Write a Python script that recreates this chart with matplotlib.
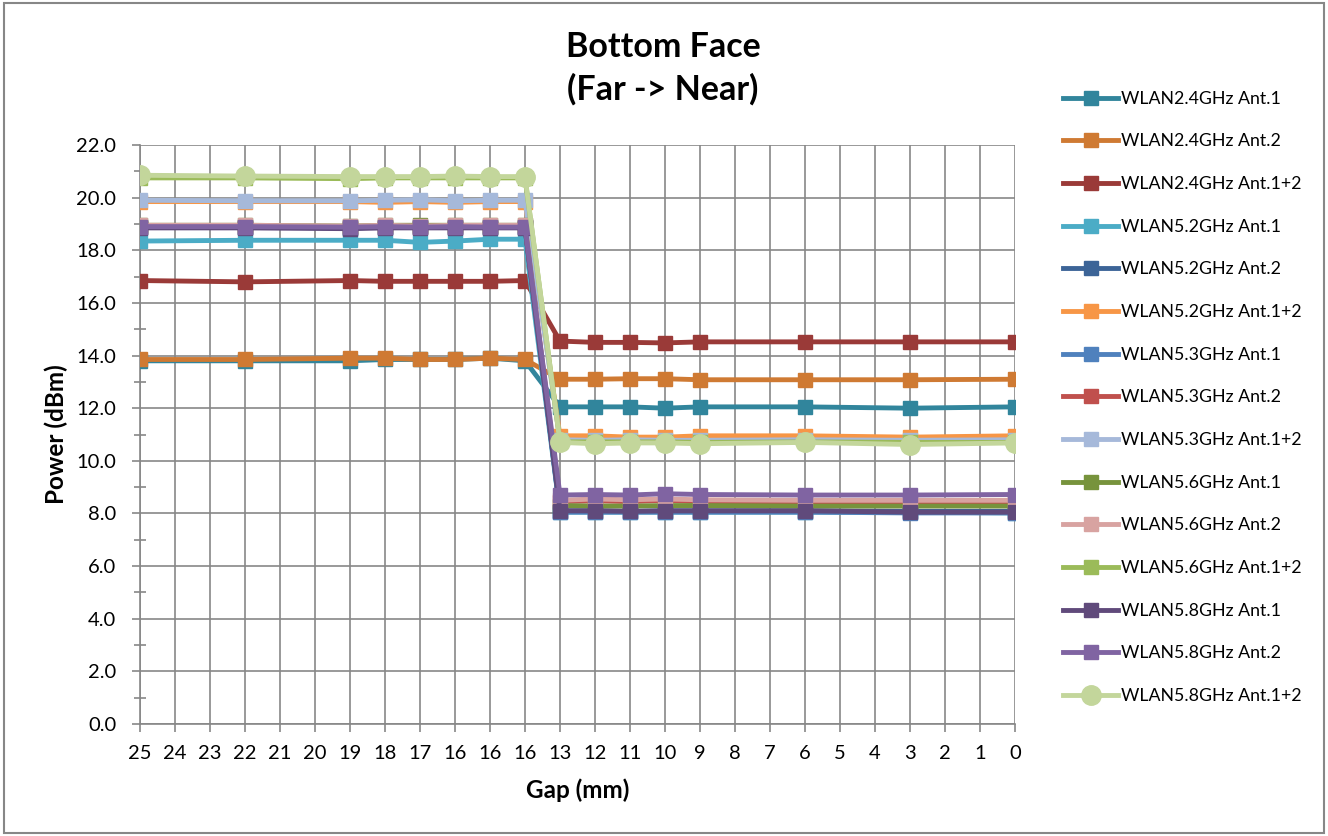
import matplotlib
matplotlib.use("Agg")
from matplotlib import pyplot as plt
from matplotlib.patches import Rectangle
import numpy as np

plt.rcParams['font.family'] = ['Lato', 'DejaVu Sans']

# x categories (gap in mm), as on the sheet
gaps = ["25", "24", "23", "22", "21", "20", "19", "18", "17", "16", "16", "16", "13",
        "12", "11", "10", "9", "8", "7", "6", "5", "4", "3", "2", "1", "0"]
# category positions that actually have a measurement
pos = [0, 3, 6, 7, 8, 9, 10, 11, 12, 13, 14, 15, 16, 19, 22, 25]

w24_a1 = [13.80, 13.80, 13.80, 13.85, 13.85, 13.85, 13.90, 13.80, 12.05, 12.05, 12.05, 12.00, 12.05, 12.05, 12.00, 12.05]
w24_a2 = [13.85, 13.85, 13.90, 13.90, 13.85, 13.85, 13.90, 13.85, 13.10, 13.10, 13.12, 13.12, 13.08, 13.08, 13.08, 13.10]
w24_a12 = [16.85, 16.80, 16.85, 16.82, 16.82, 16.82, 16.82, 16.85, 14.55, 14.50, 14.50, 14.48, 14.52, 14.52, 14.52, 14.52]
w52_a1 = [18.35, 18.38, 18.38, 18.38, 18.30, 18.35, 18.42, 18.42, 8.05, 8.05, 8.05, 8.05, 8.05, 8.05, 8.05, 8.02]
w52_a2 = [18.88, 18.88, 18.85, 18.88, 18.88, 18.88, 18.88, 18.88, 8.10, 8.10, 8.08, 8.10, 8.10, 8.10, 8.08, 8.08]
w52_a12 = [19.85, 19.85, 19.85, 19.82, 19.85, 19.82, 19.85, 19.85, 10.95, 10.95, 10.90, 10.90, 10.95, 10.95, 10.90, 10.95]
w53_a1 = [18.88, 18.88, 18.85, 18.88, 18.88, 18.88, 18.88, 18.88, 8.05, 8.05, 8.05, 8.05, 8.05, 8.05, 8.02, 8.02]
w53_a2 = [18.90, 18.90, 18.88, 18.90, 18.90, 18.90, 18.90, 18.90, 8.45, 8.48, 8.45, 8.50, 8.45, 8.45, 8.45, 8.45]
w53_a12 = [19.90, 19.88, 19.88, 19.90, 19.92, 19.88, 19.90, 19.90, 10.80, 10.78, 10.80, 10.78, 10.78, 10.80, 10.78, 10.80]
w56_a1 = [18.95, 18.95, 18.92, 18.95, 18.95, 18.95, 18.95, 18.95, 8.30, 8.28, 8.28, 8.30, 8.30, 8.28, 8.28, 8.28]
w56_a2 = [18.95, 18.95, 18.92, 18.95, 18.92, 18.95, 18.95, 18.95, 8.50, 8.55, 8.52, 8.55, 8.52, 8.50, 8.50, 8.50]
w56_a12 = [20.75, 20.75, 20.72, 20.75, 20.75, 20.75, 20.75, 20.75, 10.72, 10.72, 10.72, 10.72, 10.70, 10.72, 10.70, 10.70]
w58_a1 = [18.85, 18.85, 18.82, 18.85, 18.85, 18.85, 18.85, 18.85, 8.10, 8.10, 8.08, 8.10, 8.10, 8.10, 8.05, 8.05]
w58_a2 = [18.90, 18.90, 18.88, 18.90, 18.88, 18.90, 18.88, 18.88, 8.70, 8.72, 8.70, 8.75, 8.72, 8.70, 8.70, 8.72]
w58_a12 = [20.85, 20.82, 20.80, 20.80, 20.80, 20.82, 20.80, 20.80, 10.70, 10.65, 10.68, 10.68, 10.65, 10.70, 10.62, 10.68]

series = [
    ("WLAN2.4GHz Ant.1", w24_a1, "#31859C", "s"),
    ("WLAN2.4GHz Ant.2", w24_a2, "#CF7A33", "s"),
    ("WLAN2.4GHz Ant.1+2", w24_a12, "#9A3A38", "s"),
    ("WLAN5.2GHz Ant.1", w52_a1, "#4BACC6", "s"),
    ("WLAN5.2GHz Ant.2", w52_a2, "#3C6497", "s"),
    ("WLAN5.2GHz Ant.1+2", w52_a12, "#F79646", "s"),
    ("WLAN5.3GHz Ant.1", w53_a1, "#4F81BD", "s"),
    ("WLAN5.3GHz Ant.2", w53_a2, "#C0504D", "s"),
    ("WLAN5.3GHz Ant.1+2", w53_a12, "#A6B9DA", "s"),
    ("WLAN5.6GHz Ant.1", w56_a1, "#77933C", "s"),
    ("WLAN5.6GHz Ant.2", w56_a2, "#D8A3A1", "s"),
    ("WLAN5.6GHz Ant.1+2", w56_a12, "#9BBB59", "s"),
    ("WLAN5.8GHz Ant.1", w58_a1, "#604A7B", "s"),
    ("WLAN5.8GHz Ant.2", w58_a2, "#8064A2", "s"),
    ("WLAN5.8GHz Ant.1+2", w58_a12, "#C3D69B", "o"),
]

fig = plt.figure(figsize=(13.28, 8.36), dpi=100)
ax = fig.add_axes([140 / 1328, 1 - 724 / 836, 875 / 1328, 579 / 836])

for name, vals, col, mk in series:
    ms = 14 if mk == "o" else 10.5
    ax.plot(pos, vals, color=col, lw=3.5, marker=mk, ms=ms, mec=col, label=name,
            solid_joinstyle="round", zorder=3)

grid_c = "#878787"
ax.set_xlim(0, len(gaps) - 1)
ax.set_ylim(0, 22)
ax.set_xticks(np.arange(len(gaps)))
ax.set_xticklabels(gaps)
ax.set_yticks(np.arange(0, 22.1, 2))
ax.set_yticklabels([f"{v:.1f}" for v in np.arange(0, 22.1, 2)])
ax.set_yticks(np.arange(1, 22, 2), minor=True)
ax.grid(True, which="major", color=grid_c, lw=1.2)
ax.set_axisbelow(True)
for s in ["top", "right"]:
    ax.spines[s].set_visible(False)
for s in ["left", "bottom"]:
    ax.spines[s].set_color(grid_c)
    ax.spines[s].set_linewidth(1.2)
ax.tick_params(axis="both", which="major", length=6, width=1.2, color=grid_c,
               labelsize=14.5)
ax.tick_params(axis="x", which="major", pad=9)
ax.tick_params(axis="y", which="major", pad=11)
ax.tick_params(axis="y", which="minor", direction="inout", length=9, width=1.2, color=grid_c)

ax.set_xlabel("Gap (mm)", fontsize=17.5, fontweight="bold", labelpad=12)
ax.set_ylabel("Power (dBm)", fontsize=17.5, fontweight="bold", labelpad=6)

fig.text(663 / 1328, 1 - 68 / 836, "Bottom Face\n(Far -> Near)", ha="center", va="center",
         fontsize=24.5, fontweight="bold", linespacing=1.38)

fig.legend(loc="center left", bbox_to_anchor=(1063 / 1328, 1 - 397.5 / 836), frameon=False,
           fontsize=12.8, labelspacing=1.5, handlelength=3.1, handletextpad=0.17,
           borderpad=0, borderaxespad=0)

fig.patches.append(Rectangle((0.003, 0.003), 0.994, 0.994, transform=fig.transFigure,
                             fill=False, edgecolor=grid_c, lw=1.5))

fig.savefig("out.png", dpi=100)
